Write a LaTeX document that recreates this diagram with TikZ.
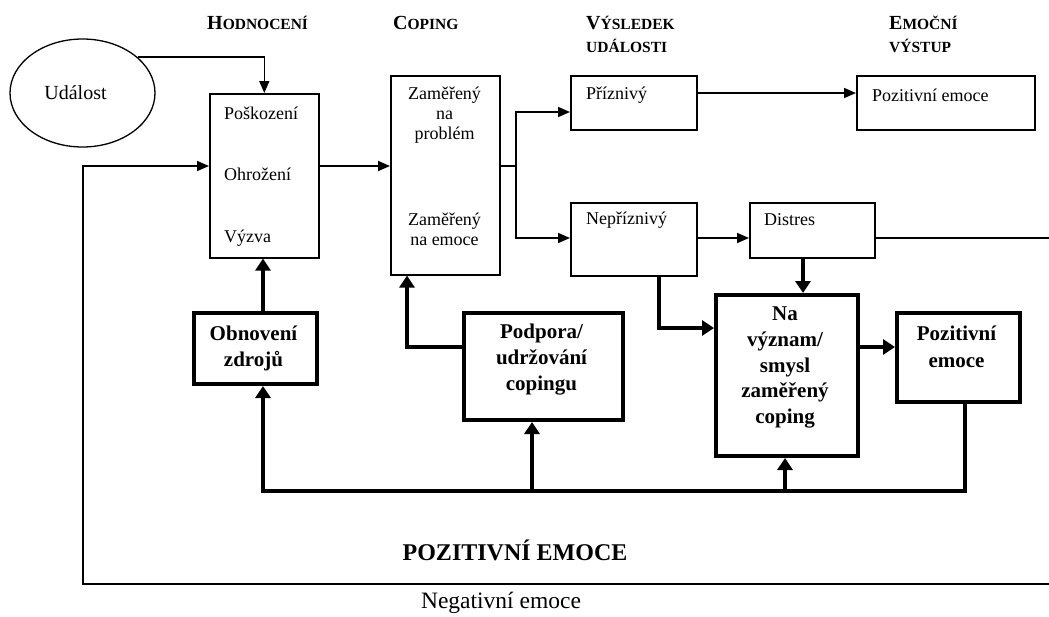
\documentclass[tikz,border=0pt]{standalone}
\usepackage{fontspec}
\setmainfont{Liberation Serif}
\usetikzlibrary{arrows.meta,shapes.geometric}
\newcommand\hbig[1]{{\fontsize{20}{22}\selectfont #1}}
\newcommand\hsmall[1]{{\fontsize{15.5}{17}\selectfont #1}}
\begin{document}
\begin{tikzpicture}[x=1pt,y=-1pt,
  line/.style={line width=1.6pt},
  conn/.style={line width=1.6pt,-{Triangle[length=12pt,width=10pt]}},
  tline/.style={line width=4pt},
  tconn/.style={line width=4pt,-{Triangle[length=12pt,width=15pt]}},
  box/.style={draw,line width=1.6pt,anchor=north west,inner sep=0pt},
  tbox/.style={draw,line width=4pt,anchor=north west,inner sep=0pt},
  txt/.style={font=\fontsize{18}{20}\selectfont,inner sep=0pt},
  ctxt/.style={txt,align=center},
  btxt/.style={font=\fontsize{21}{26}\selectfont\bfseries,align=center,inner sep=0pt},
  hd/.style={font=\bfseries,anchor=base west,inner sep=0pt}
]
\useasboundingbox (0,0) rectangle (1049,616);

% column headings
\node[hd] (h1) at (207,29) {\hbig{H}\hsmall{ODNOCENÍ}};
\node[hd] (h2) at (393,29) {\hbig{C}\hsmall{OPING}};
\node[hd] (h3) at (586,29) {\hbig{V}\hsmall{ÝSLEDEK}};
\node[hd] (h3b) at (586,52) {\hsmall{UDÁLOSTI}};
\node[hd] (h4) at (889,29) {\hbig{E}\hsmall{MOČNÍ}};
\node[hd] (h4b) at (889,52) {\hsmall{VÝSTUP}};

% event
\node[draw,ellipse,line width=1.3pt,minimum width=145pt,minimum height=108pt,inner sep=0pt,
      font=\fontsize{20}{22}\selectfont] (ev) at (82.5,93) {Událost\hspace*{14pt}};

% thin boxes
\node[box,minimum width=109pt,minimum height=164pt] (ap) at (209,93) {};
\node[box,minimum width=109pt,minimum height=199pt] (co) at (390,75) {};
\node[box,minimum width=126pt,minimum height=54pt] (pr) at (570,75) {};
\node[box,minimum width=178pt,minimum height=54pt] (pe) at (856,75) {};
\node[box,minimum width=126pt,minimum height=73pt] (np) at (570,202) {};
\node[box,minimum width=125pt,minimum height=55pt] (di) at (749,202) {};

% thick boxes
\node[tbox,minimum width=123pt,minimum height=71pt] (ob) at (192,311) {};
\node[tbox,minimum width=159pt,minimum height=107pt] (pp) at (462,311) {};
\node[tbox,minimum width=142pt,minimum height=161pt] (na) at (714,293) {};
\node[tbox,minimum width=123pt,minimum height=89pt] (pb) at (895,311) {};

% texts in thin boxes
\node[txt,anchor=west] (t1) at (224,113) {Poškození};
\node[txt,anchor=west] (t2) at (224,174) {Ohrožení};
\node[txt,anchor=west] (t3) at (224,238) {Výzva};
\node[ctxt] (t4) at (444.5,115) {Zaměřený\\na\\problém};
\node[ctxt] (t5) at (444.5,229.5) {Zaměřený\\na emoce};
\node[txt,anchor=west] (t6) at (586,95) {Příznivý};
\node[txt,anchor=west] (t7) at (872,95) {Pozitivní emoce};
\node[txt,anchor=west] (t8) at (586,220) {Nepříznivý};
\node[txt,anchor=west] (t9) at (764,220) {Distres};

% texts in thick boxes
\node[btxt] (b1) at (253.5,348) {Obnovení\\zdrojů};
\node[btxt] (b2) at (541.5,360) {Podpora/\\udržování\\copingu};
\node[btxt,font=\fontsize{21}{25.75}\selectfont\bfseries] (b3) at (785,367.5) {Na\\význam/\\smysl\\zaměřený\\coping};
\node[btxt,font=\fontsize{21}{27}\selectfont\bfseries] (b4) at (956.5,346.5) {Pozitivní\\emoce};

% free labels
\node[inner sep=0pt,font=\fontsize{24}{26}\selectfont\bfseries] (lp) at (515,550) {POZITIVNÍ EMOCE};
\node[inner sep=0pt,font=\fontsize{23.5}{26}\selectfont] (ln) at (501,603) {Negativní emoce};

% helper coordinates
\coordinate (ymid) at (0,166);
\coordinate (sp) at (516,166);
\coordinate (ypr) at (0,112);
\coordinate (ynp) at (0,238);
\coordinate (ype) at (0,93);
\coordinate (re) at (1049,238);
\coordinate (rb) at (1049,584);
\coordinate (lb) at (83,584);
\coordinate (xa) at (263,0);
\coordinate (xc) at (407,0);
\coordinate (ypp) at (0,347);
\coordinate (xd) at (803,0);
\coordinate (xn) at (659,0);
\coordinate (yn) at (0,328);
\coordinate (xb) at (965,0);
\coordinate (bus) at (263,491);
\coordinate (xpp) at (532,0);
\coordinate (xna) at (785,0);

% thin connectors
\draw[conn] (ev.33.7) -| (ap.north);
\draw[conn] (ap.east |- ymid) -- (co.west |- ymid);
\draw[line] (co.east |- sp) -- (sp);
\draw[conn] (sp) |- (pr.west |- ypr);
\draw[conn] (sp) |- (np.west |- ynp);
\draw[conn] (pr.east |- ype) -- (pe.west |- ype);
\draw[conn] (np.east |- ynp) -- (di.west |- ynp);
\draw[line] (di.east |- re) -- (re);
\draw[conn] (rb) -- (lb) |- (ap.west |- ymid);

% thick connectors
\draw[tconn] (ob.north -| xa) -- (ap.south -| xa);
\draw[tconn] (pp.west |- ypp) -| (co.south -| xc);
\draw[tconn] (di.south -| xd) -- (na.north -| xd);
\draw[tconn] (np.south -| xn) |- (na.west |- yn);
\draw[tconn] (na.east |- ypp) -- (pb.west |- ypp);
\draw[tconn,line join=miter] (pb.south -| xb) |- (bus) -- (ob.south -| xa);
\draw[tconn] (bus -| xpp) -- (pp.south -| xpp);
\draw[tconn] (bus -| xna) -- (na.south -| xna);
\end{tikzpicture}
\end{document}
